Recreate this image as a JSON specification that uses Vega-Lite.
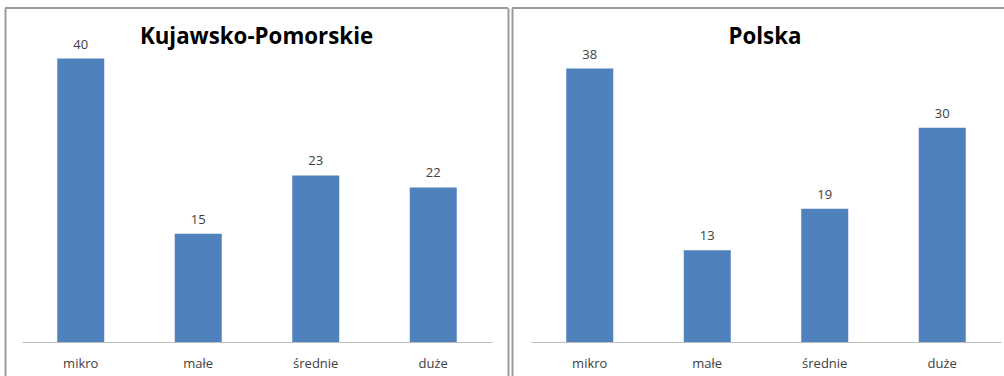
{
  "$schema": "https://vega.github.io/schema/vega-lite/v6.json",
  "padding": {"left": 4, "top": 7, "right": 0, "bottom": 0},
  "autosize": {"type": "pad"},
  "background": "white",
  "config": {
    "view": {"stroke": null},
    "font": "Open Sans",
    "concat": {"spacing": 2}
  },
  "data": {
    "values": [
      {"region": "Kujawsko-Pomorskie", "category": "mikro", "value": 39.8},
      {"region": "Kujawsko-Pomorskie", "category": "małe", "value": 15.2},
      {"region": "Kujawsko-Pomorskie", "category": "średnie", "value": 23.4},
      {"region": "Kujawsko-Pomorskie", "category": "duże", "value": 21.7},
      {"region": "Polska", "category": "mikro", "value": 38.4},
      {"region": "Polska", "category": "małe", "value": 12.9},
      {"region": "Polska", "category": "średnie", "value": 18.7},
      {"region": "Polska", "category": "duże", "value": 30.1}
    ]
  },
  "hconcat": [
    {
      "width": 503,
      "height": 369,
      "title": {"text": "Kujawsko-Pomorskie", "anchor": "middle", "offset": -59, "baseline": "alphabetic", "fontSize": 22.3, "fontWeight": "bold", "color": "#000000", "font": "Open Sans"},
      "transform": [{"filter": "datum.region === 'Kujawsko-Pomorskie'"}],
      "layer": [
        {"mark": {"type": "bar", "color": "#4f81bd"},
          "encoding": {
            "x": {"field": "category", "type": "nominal", "sort": ["mikro", "małe", "średnie", "duże"],
              "scale": {"range": [17, 487], "paddingInner": 0.6, "paddingOuter": 0.3},
              "axis": {"title": null, "orient": "bottom", "offset": -35, "domainColor": "#bfbfbf", "domainWidth": 1, "ticks": false, "tickSize": 0, "labelPadding": 25, "labelBaseline": "alphabetic", "labelAngle": 0, "labelFontSize": 13, "labelColor": "#404040", "labelFont": "Open Sans"}},
            "y": {"field": "value", "type": "quantitative", "scale": {"domain": [-4.916, 46.91], "nice": false, "zero": false},
              "axis": {"orient": "left", "title": null, "labels": false, "ticks": false, "grid": false, "domain": true, "domainColor": "#9a9a9a", "domainWidth": 2}},
            "y2": {"datum": 0}}},
        {"mark": {"type": "text", "baseline": "alphabetic", "dy": -10, "fontSize": 13, "color": "#404040", "font": "Open Sans"},
          "encoding": {
            "x": {"field": "category", "type": "nominal", "sort": ["mikro", "małe", "średnie", "duże"]},
            "y": {"field": "value", "type": "quantitative",
              "axis": {"orient": "right", "title": null, "labels": false, "ticks": false, "grid": false, "domain": true, "domainColor": "#9a9a9a", "domainWidth": 2}},
            "text": {"field": "value", "type": "quantitative", "format": ".0f"}}},
        {"mark": {"type": "rule", "color": "#9a9a9a", "strokeWidth": 2},
          "encoding": {"y": {"datum": 46.91, "axis": null}}}
      ],
      "resolve": {"axis": {"y": "independent"}}
    },
    {
      "width": 492,
      "height": 369,
      "title": {"text": "Polska", "anchor": "middle", "offset": -59, "dx": 7, "baseline": "alphabetic", "fontSize": 22.3, "fontWeight": "bold", "color": "#000000", "font": "Open Sans"},
      "transform": [{"filter": "datum.region === 'Polska'"}],
      "layer": [
        {"mark": {"type": "bar", "color": "#4f81bd"},
          "encoding": {
            "x": {"field": "category", "type": "nominal", "sort": ["mikro", "małe", "średnie", "duże"],
              "scale": {"range": [19, 489], "paddingInner": 0.6, "paddingOuter": 0.3},
              "axis": {"title": null, "orient": "bottom", "offset": -35, "domainColor": "#bfbfbf", "domainWidth": 1, "ticks": false, "tickSize": 0, "labelPadding": 25, "labelBaseline": "alphabetic", "labelAngle": 0, "labelFontSize": 13, "labelColor": "#404040", "labelFont": "Open Sans"}},
            "y": {"field": "value", "type": "quantitative", "scale": {"domain": [-4.916, 46.91], "nice": false, "zero": false},
              "axis": {"orient": "left", "title": null, "labels": false, "ticks": false, "grid": false, "domain": true, "domainColor": "#9a9a9a", "domainWidth": 2}},
            "y2": {"datum": 0}}},
        {"mark": {"type": "text", "baseline": "alphabetic", "dy": -10, "fontSize": 13, "color": "#404040", "font": "Open Sans"},
          "encoding": {
            "x": {"field": "category", "type": "nominal", "sort": ["mikro", "małe", "średnie", "duże"]},
            "y": {"field": "value", "type": "quantitative"},
            "text": {"field": "value", "type": "quantitative", "format": ".0f"}}},
        {"mark": {"type": "rule", "color": "#9a9a9a", "strokeWidth": 2},
          "encoding": {"y": {"datum": 46.91}}}
      ]
    }
  ]
}
